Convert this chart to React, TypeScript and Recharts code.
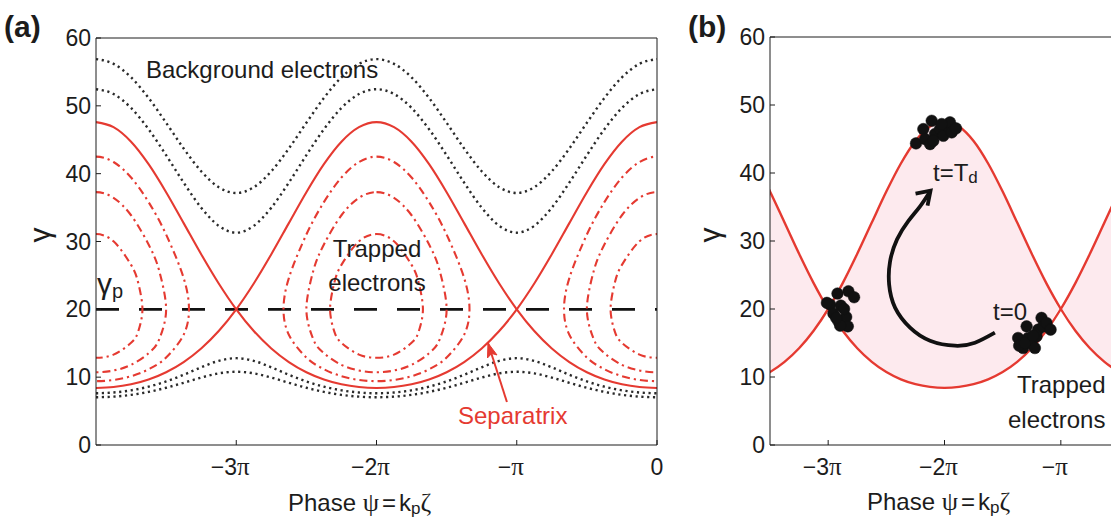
import React from 'react';
import { ComposedChart, Line, Area, XAxis, YAxis, ReferenceLine } from 'recharts';

// phase sampled in units of pi
const phase = [
  -4, -3.875, -3.75, -3.625, -3.5, -3.375, -3.25, -3.125, -3, -2.875, -2.75, -2.625, -2.5, -2.375, -2.25, -2.125,
  -2, -1.875, -1.75, -1.625, -1.5, -1.375, -1.25, -1.125, -1, -0.875, -0.75, -0.625, -0.5, -0.375, -0.25, -0.125, 0,
];

// separatrix, two branches crossing at gamma_p
const sepA = [
  8.4, 8.54, 8.95, 9.66, 10.73, 12.23, 14.23, 16.8, 20, 23.81, 28.12, 32.71, 37.27, 41.4, 44.71, 46.85,
  47.6, 46.85, 44.71, 41.4, 37.27, 32.71, 28.12, 23.81, 20, 16.8, 14.23, 12.23, 10.73, 9.66, 8.95, 8.54, 8.4,
];
const sepB = [
  47.6, 46.85, 44.71, 41.4, 37.27, 32.71, 28.12, 23.81, 20, 16.8, 14.23, 12.23, 10.73, 9.66, 8.95, 8.54,
  8.4, 8.54, 8.95, 9.66, 10.73, 12.23, 14.23, 16.8, 20, 23.81, 28.12, 32.71, 37.27, 41.4, 44.71, 46.85, 47.6,
];

// untrapped background electrons
const bgHigh1 = [
  56.89, 56.19, 54.2, 51.16, 47.5, 43.71, 40.35, 38.0, 37.15, 38.0, 40.35, 43.71, 47.5, 51.16, 54.2, 56.19,
  56.89, 56.19, 54.2, 51.16, 47.5, 43.71, 40.35, 38.0, 37.15, 38.0, 40.35, 43.71, 47.5, 51.16, 54.2, 56.19, 56.89,
];
const bgHigh2 = [
  52.45, 51.74, 49.69, 46.55, 42.72, 38.68, 34.99, 32.31, 31.3, 32.31, 34.99, 38.68, 42.72, 46.55, 49.69, 51.74,
  52.45, 51.74, 49.69, 46.55, 42.72, 38.68, 34.99, 32.31, 31.3, 32.31, 34.99, 38.68, 42.72, 46.55, 49.69, 51.74, 52.45,
];
const bgLow1 = [
  7.63, 7.74, 8.06, 8.6, 9.37, 10.35, 11.45, 12.4, 12.8, 12.4, 11.45, 10.35, 9.37, 8.6, 8.06, 7.74,
  7.63, 7.74, 8.06, 8.6, 9.37, 10.35, 11.45, 12.4, 12.8, 12.4, 11.45, 10.35, 9.37, 8.6, 8.06, 7.74, 7.63,
];
const bgLow2 = [
  7.04, 7.13, 7.39, 7.83, 8.44, 9.17, 9.94, 10.56, 10.8, 10.56, 9.94, 9.17, 8.44, 7.83, 7.39, 7.13,
  7.04, 7.13, 7.39, 7.83, 8.44, 9.17, 9.94, 10.56, 10.8, 10.56, 9.94, 9.17, 8.44, 7.83, 7.39, 7.13, 7.04,
];

// trapped orbits: half-width offsets (pi units) with upper / lower gamma
const outerDx = [0, 0.125, 0.25, 0.375, 0.5, 0.625, 0.663];
const outerTop = [42.51, 41.72, 39.43, 35.81, 31.03, 24.6, 20];
const outerBottom = [9.41, 9.59, 10.14, 11.17, 12.89, 16.26, 20];
const middleDx = [0, 0.125, 0.25, 0.375, 0.45, 0.5];
const middleTop = [37.28, 36.44, 33.87, 29.55, 25.73, 20];
const middleBottom = [10.72, 10.98, 11.81, 13.54, 15.55, 20];
const innerDx = [0, 0.125, 0.25, 0.3, 0.331];
const innerTop = [31.1, 30.03, 26.55, 23.99, 20];
const innerBottom = [12.86, 13.32, 15.06, 16.68, 20];
const orbitCentres = [-4, -2, 0];

const gammaP = 20;
const yTicks = [0, 10, 20, 30, 40, 50, 60];
const xTicksA = [-3, -2, -1, 0];
const xTicksB = [-3, -2, -1];

// "Separatrix" pointer
const pointerPhase = [-1.07, -1.205];
const pointerGamma = [6.34, 15.04];

// electron bunches in (b)
const bunchLeftPhase = [-2.983, -2.92, -2.826, -2.777, -2.891, -2.955, -2.912, -2.845, -2.831, -2.897, -2.931, -2.863, -3.011];
const bunchLeftGamma = [20.65, 22.27, 22.61, 21.73, 20.5, 19.32, 18.19, 18.83, 17.45, 17.55, 18.69, 20.01, 20.9];
const bunchTopPhase = [-2.245, -2.182, -2.167, -2.11, -2.124, -2.082, -2.039, -2.01, -1.981, -1.953, -1.938, -1.901, -2.024, -2.096];
const bunchTopGamma = [44.35, 46.46, 44.99, 47.68, 44.25, 45.72, 46.46, 45.47, 46.95, 47.45, 45.97, 46.56, 47.2, 44.73];
const bunchRightPhase = [-1.367, -1.324, -1.358, -1.294, -1.281, -1.252, -1.223, -1.209, -1.195, -1.166, -1.152, -1.123, -1.088, -1.309, -1.238];
const bunchRightGamma = [15.74, 14.26, 14.6, 17.45, 15.74, 14.9, 14.26, 15.97, 16.96, 18.69, 17.45, 17.95, 16.96, 15.0, 16.08];

// rotation arrow in (b)
const arcPhase = [-1.567, -1.738, -1.91, -2.124, -2.296, -2.425, -2.476, -2.468, -2.408, -2.313, -2.21, -2.12];
const arcGamma = [16.52, 15.04, 14.6, 15.34, 17.26, 20.21, 23.6, 26.99, 30.24, 32.89, 35.1, 37.4];

const RED = '#e53a31';
const INK = '#1c1c1c';
const SANS = '"Liberation Sans", Arial, sans-serif';
const SERIF = '"Liberation Serif", serif';

const pts = (xs: number[], ys: number[]) => xs.map((x, i) => ({ x, y: ys[i] }));

function orbit(c: number, dx: number[], top: number[], bottom: number[]) {
  const n = dx.length;
  const out: { x: number; y: number }[] = [];
  for (let i = 0; i < n; i++) out.push({ x: c + dx[i], y: top[i] });
  for (let i = n - 2; i >= 0; i--) out.push({ x: c + dx[i], y: bottom[i] });
  for (let i = 1; i < n; i++) out.push({ x: c - dx[i], y: bottom[i] });
  for (let i = n - 2; i >= 1; i--) out.push({ x: c - dx[i], y: top[i] });
  return out;
}

// closed catmull-rom curve for the orbit loops
function closedCatmull(context: any) {
  let p: number[][] = [];
  return {
    areaStart() {},
    areaEnd() {},
    lineStart() {
      p = [];
    },
    point(x: number, y: number) {
      p.push([+x, +y]);
    },
    lineEnd() {
      const n = p.length;
      if (!n) return;
      context.moveTo(p[0][0], p[0][1]);
      for (let i = 0; i < n; i++) {
        const p0 = p[(i - 1 + n) % n];
        const p1 = p[i];
        const p2 = p[(i + 1) % n];
        const p3 = p[(i + 2) % n];
        context.bezierCurveTo(
          p1[0] + (p2[0] - p0[0]) / 6, p1[1] + (p2[1] - p0[1]) / 6,
          p2[0] - (p3[0] - p1[0]) / 6, p2[1] - (p3[1] - p1[1]) / 6,
          p2[0], p2[1],
        );
      }
      context.closePath();
    },
  };
}

const orbits = orbitCentres.flatMap((c) => [
  orbit(c, outerDx, outerTop, outerBottom),
  orbit(c, middleDx, middleTop, middleBottom),
  orbit(c, innerDx, innerTop, innerBottom),
]);

const bandData = phase.map((x, i) => ({ x, band: [Math.min(sepA[i], sepB[i]), Math.max(sepA[i], sepB[i])] }));

const piLabel = (v: number) => (v === 0 ? '0' : v === -1 ? '\u2212' : `\u2212${-v}`);

const XTick = (p: any) => {
  const v = p.payload.value;
  return (
    <text x={p.x + (v === 0 ? 0 : -6)} y={p.y + 25} textAnchor="middle" fontSize={23} fill={INK} fontFamily={SANS}>
      {piLabel(v)}
      {v !== 0 && <tspan fontFamily={SERIF} fontSize={25}>{'\u03c0'}</tspan>}
    </text>
  );
};

const YTick = (p: any) => (
  <text x={p.x} y={p.y + 8} textAnchor="end" fontSize={23} fill={INK} fontFamily={SANS}>
    {p.payload.value}
  </text>
);

// bottom/left axes carry labels; top/right mirror them as a frame with inward ticks
const axes = (domain: [number, number], ticks: number[]) => [
  <XAxis key="xb" type="number" dataKey="x" domain={domain} ticks={ticks} interval={0} allowDataOverflow
    tickSize={-5} tickMargin={10} height={40} tick={XTick} axisLine={{ stroke: INK }} tickLine={{ stroke: INK }} />,
  <XAxis key="xt" xAxisId="top" orientation="top" type="number" dataKey="x" domain={domain} ticks={ticks} interval={0}
    allowDataOverflow tickSize={-5} height={1} tick={false} axisLine={{ stroke: INK }} tickLine={{ stroke: INK }} />,
  <YAxis key="yl" type="number" domain={[0, 60]} ticks={yTicks} interval={0} allowDataOverflow tickSize={-5}
    tickMargin={10} width={56} tick={YTick} axisLine={{ stroke: INK }} tickLine={{ stroke: INK }} />,
  <YAxis key="yr" yAxisId="right" orientation="right" type="number" domain={[0, 60]} ticks={yTicks} interval={0}
    allowDataOverflow tickSize={-5} width={1} tick={false} axisLine={{ stroke: INK }} tickLine={{ stroke: INK }} />,
  <Line key="frame" xAxisId="top" yAxisId="right" data={pts(phase, sepA)} dataKey="y" stroke="none" dot={false}
    activeDot={false} isAnimationActive={false} />,
];

const PointerHead = (p: any) =>
  p.index === 1 ? (
    <polygon key="head" points={`${p.cx},${p.cy} ${p.cx + 9},${p.cy + 12} ${p.cx + 3.6},${p.cy + 10.5} ${p.cx - 0.5},${p.cy + 15}`} fill={RED} stroke={RED} strokeWidth={1} />
  ) : <g key={`d${p.index}`} />;

const ArcHead = (p: any) =>
  p.index === arcPhase.length - 1 ? (
    <polyline key="arch" points={`${p.cx - 3},${p.cy + 15} ${p.cx},${p.cy} ${p.cx - 15},${p.cy + 3}`} fill="none" stroke="#111" strokeWidth={3.8} />
  ) : <g key={`d${p.index}`} />;

function PanelA() {
  const dotted = { stroke: '#2a2a2a', strokeWidth: 2.4, strokeDasharray: '2.2 3.6', dot: false, activeDot: false, isAnimationActive: false, type: 'monotone' as const };
  return (
    <ComposedChart width={680} height={523} margin={{ top: 37, right: 22, bottom: 38, left: 40 }}>
      {axes([-4, 0], xTicksA)}
      <ReferenceLine y={gammaP} stroke="#111" strokeWidth={2.6} strokeDasharray="23 20" />
      {orbits.map((o, i) => (
        <Line key={`o${i}`} data={o} dataKey="y" type={closedCatmull as any} stroke={RED} strokeWidth={2.1}
          strokeDasharray="8 4 2.2 4" dot={false} activeDot={false} isAnimationActive={false} />
      ))}
      <Line data={pts(phase, bgHigh1)} dataKey="y" {...dotted} />
      <Line data={pts(phase, bgHigh2)} dataKey="y" {...dotted} />
      <Line data={pts(phase, bgLow1)} dataKey="y" {...dotted} />
      <Line data={pts(phase, bgLow2)} dataKey="y" {...dotted} />
      <Line data={pts(phase, sepA)} dataKey="y" type="monotone" stroke={RED} strokeWidth={2.1} dot={false} activeDot={false} isAnimationActive={false} />
      <Line data={pts(phase, sepB)} dataKey="y" type="monotone" stroke={RED} strokeWidth={2.1} dot={false} activeDot={false} isAnimationActive={false} />
      <Line data={pts(pointerPhase, pointerGamma)} dataKey="y" type="linear" stroke={RED} strokeWidth={2} dot={PointerHead} activeDot={false} isAnimationActive={false} />
    </ComposedChart>
  );
}

function PanelB() {
  const bunch = { dataKey: 'y', stroke: 'none', dot: { r: 5.8, fill: '#111', stroke: '#111', strokeWidth: 0.5 }, activeDot: false, isAnimationActive: false };
  return (
    <ComposedChart width={440} height={523} margin={{ top: 36, right: 20, bottom: 38, left: 14 }}>
      {axes([-3.5, -0.5], xTicksB)}
      <Area data={bandData} dataKey="band" type="monotone" fill="#fdeaee" fillOpacity={1} stroke="none" isAnimationActive={false} activeDot={false} />
      <Line data={pts(phase, sepA)} dataKey="y" type="monotone" stroke={RED} strokeWidth={2.4} dot={false} activeDot={false} isAnimationActive={false} />
      <Line data={pts(phase, sepB)} dataKey="y" type="monotone" stroke={RED} strokeWidth={2.4} dot={false} activeDot={false} isAnimationActive={false} />
      <Line data={pts(arcPhase, arcGamma)} dataKey="y" type="natural" stroke="#111" strokeWidth={3.8} dot={ArcHead} activeDot={false} isAnimationActive={false} />
      <Line data={pts(bunchLeftPhase, bunchLeftGamma)} {...bunch} />
      <Line data={pts(bunchTopPhase, bunchTopGamma)} {...bunch} />
      <Line data={pts(bunchRightPhase, bunchRightGamma)} {...bunch} />
    </ComposedChart>
  );
}

const AxisTitle = ({ x, y }: { x: number; y: number }) => (
  <text x={x} y={y} fontSize={24} fill={INK} fontFamily={SANS}>
    Phase <tspan fontFamily={SERIF} fontSize={26}>{'\u03c8'}</tspan>
    <tspan dx={3}>=</tspan>
    <tspan dx={3}>k</tspan>
    <tspan fontSize={17} dy={3}>p</tspan>
    <tspan fontFamily={SERIF} fontSize={26} dy={-3}>{'\u03b6'}</tspan>
  </text>
);

export default function App() {
  return (
    <div style={{ position: 'absolute', left: 0, top: 0, width: 1111, height: 523, overflow: 'hidden', background: '#fff' }}>
      <div style={{ position: 'absolute', left: 0, top: 0 }}>
        <PanelA />
      </div>
      <div style={{ position: 'absolute', left: 700, top: 0 }}>
        <PanelB />
      </div>
      <svg width={1111} height={523} style={{ position: 'absolute', left: 0, top: 0, pointerEvents: 'none' }}>
        <g fontFamily={SANS} fill={INK}>
          <text x={4} y={37} fontSize={30} fontWeight="bold">(a)</text>
          <text x={688} y={37} fontSize={30} fontWeight="bold">(b)</text>
          <text x={146} y={78} fontSize={24}>Background electrons</text>
          <text x={377} y={257} fontSize={24} textAnchor="middle">Trapped</text>
          <text x={377} y={291} fontSize={24} textAnchor="middle">electrons</text>
          <text x={97} y={294} fontSize={30}>
            {'\u03b3'}<tspan fontSize={20} dy={4}>p</tspan>
          </text>
          <text x={458} y={424} fontSize={24} fill={RED}>Separatrix</text>
          <text x={933} y={181} fontSize={24}>
            t=T<tspan fontSize={17} dy={2}>d</tspan>
          </text>
          <text x={993} y={320} fontSize={24}>t=0</text>
          <text x={1017} y={393} fontSize={24}>Trapped</text>
          <text x={1008} y={428} fontSize={24}>electrons</text>
          <text transform="translate(50,235) rotate(-90)" textAnchor="middle" fontSize={30}>{'\u03b3'}</text>
          <text transform="translate(720,235) rotate(-90)" textAnchor="middle" fontSize={30}>{'\u03b3'}</text>
        </g>
        <AxisTitle x={288} y={511} />
        <AxisTitle x={867} y={510} />
      </svg>
    </div>
  );
}
